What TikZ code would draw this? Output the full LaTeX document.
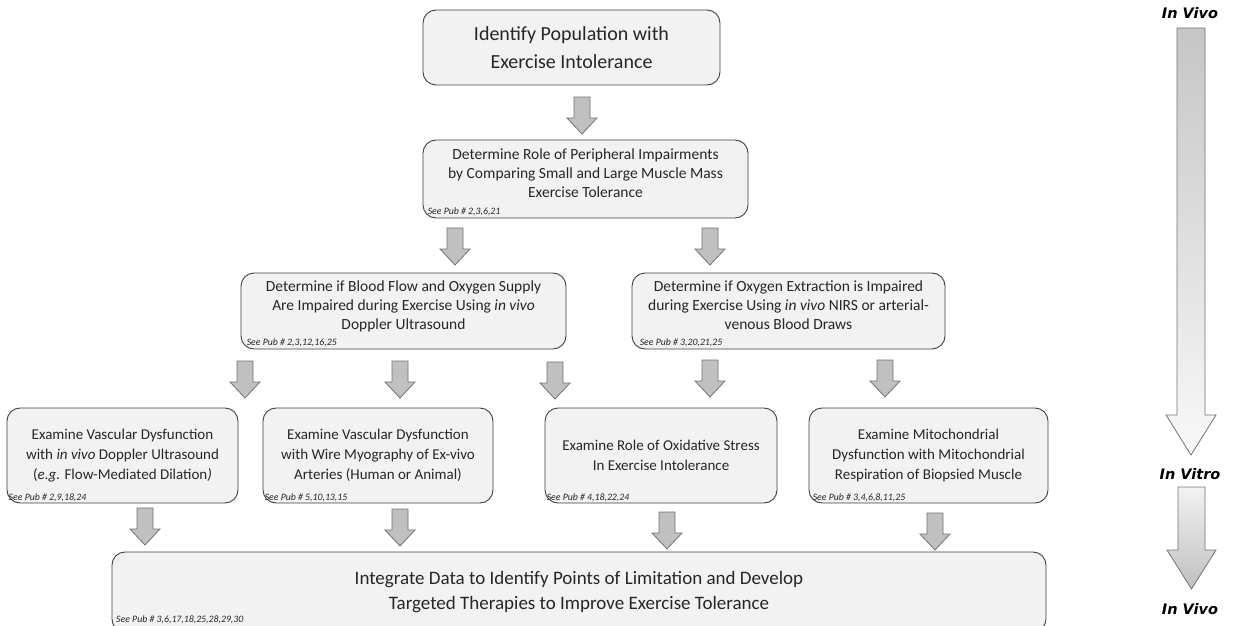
\documentclass[tikz,border=0pt]{standalone}
\usepackage{fontspec}
\setmainfont{Carlito}
\newfontfamily\labfont{DejaVu Sans}
\definecolor{boxfill}{HTML}{F2F2F2}
\definecolor{boxline}{HTML}{404040}
\definecolor{arrfill}{HTML}{C0C0C0}
\definecolor{arrline}{HTML}{737373}
\definecolor{txt}{HTML}{262626}
\newcommand{\lowstrut}{\rule[-11pt]{0pt}{1pt}}
\tikzset{
  box/.style={draw=boxline, fill=boxfill, text=txt, line width=0.9pt, rounded corners=13pt, align=center, inner sep=2pt},
  pubref/.style={anchor=south west, inner sep=0pt, text=txt, font=\fontsize{9.8}{10}\selectfont\itshape},
  sidelab/.style={font=\labfont\fontsize{14.5}{16}\selectfont\bfseries\itshape, inner sep=0pt},
  blockarr/.style={draw=arrline, fill=arrfill, line width=0.8pt, line join=miter},
  pics/darrow/.style={code={
    \draw[blockarr] (-8,0) -- (8,0) -- (8,21) -- (15,21) -- (0,37) -- (-15,21) -- (-8,21) -- cycle;
  }}
}
\begin{document}
\begin{tikzpicture}[x=1pt,y=-1pt]
\useasboundingbox (0,0) rectangle (1237,626);

% boxes
\node[box, minimum width=297pt, minimum height=75pt, font=\fontsize{20}{27.5}\selectfont] (b1) at (571.5,47.5)
  {Identify Population with\\Exercise Intolerance};

\node[box, minimum width=325pt, minimum height=78pt, font=\fontsize{15.5}{19}\selectfont] (b2) at (585.5,179)
  {Determine Role of Peripheral Impairments\\by Comparing Small and Large Muscle Mass\\Exercise Tolerance\lowstrut};
\node[pubref] (p2) at ([xshift=5pt,yshift=2pt]b2.south west) {See Pub \# 2,3,6,21};

\node[box, minimum width=325pt, minimum height=76pt, font=\fontsize{15.5}{19}\selectfont] (b3) at (403.5,311)
  {Determine if Blood Flow and Oxygen Supply\\Are Impaired during Exercise Using \textit{in vivo}\\Doppler Ultrasound\lowstrut};
\node[pubref] (p3) at ([xshift=6pt,yshift=2pt]b3.south west) {See Pub \# 2,3,12,16,25};

\node[box, minimum width=313pt, minimum height=76pt, font=\fontsize{15.5}{19}\selectfont] (b4) at (788.5,311)
  {Determine if Oxygen Extraction is Impaired\\during Exercise Using \textit{in vivo} NIRS or arterial-\\venous Blood Draws\lowstrut};
\node[pubref] (p4) at ([xshift=8pt,yshift=2pt]b4.south west) {See Pub \# 3,20,21,25};

\node[box, minimum width=231pt, minimum height=95pt, font=\fontsize{15}{20}\selectfont] (c1) at (122.5,455.5)
  {Examine Vascular Dysfunction\\with \textit{in vivo} Doppler Ultrasound\\(\textit{e.g.} Flow-Mediated Dilation\textit{)}};
\node[pubref] (q1) at ([xshift=2pt,yshift=2pt]c1.south west) {See Pub \# 2,9,18,24};

\node[box, minimum width=230pt, minimum height=95pt, font=\fontsize{15}{20}\selectfont] (c2) at (378,455.5)
  {Examine Vascular Dysfunction\\with Wire Myography of Ex-vivo\\Arteries (Human or Animal)};
\node[pubref] (q2) at ([xshift=2pt,yshift=2pt]c2.south west) {See Pub \# 5,10,13,15};

\node[box, minimum width=232pt, minimum height=95pt, font=\fontsize{15}{20}\selectfont] (c3) at (661,455.5)
  {Examine Role of Oxidative Stress\\In Exercise Intolerance};
\node[pubref] (q3) at ([xshift=2pt,yshift=2pt]c3.south west) {See Pub \# 4,18,22,24};

\node[box, minimum width=239pt, minimum height=95pt, font=\fontsize{15}{20}\selectfont] (c4) at (928.5,455.5)
  {Examine Mitochondrial\\Dysfunction with Mitochondrial\\Respiration of Biopsied Muscle};
\node[pubref] (q4) at ([xshift=4pt,yshift=2pt]c4.south west) {See Pub \# 3,4,6,8,11,25};

\node[box, minimum width=934pt, minimum height=80pt, font=\fontsize{19}{25}\selectfont] (d1) at (579,592)
  {Integrate Data to Identify Points of Limitation and Develop\\Targeted Therapies to Improve Exercise Tolerance};
\node[pubref] (r1) at (116,624) {See Pub \# 3,6,17,18,25,28,29,30};

% block arrows
\pic at (582,97) {darrow};
\pic at (455,228) {darrow};
\pic at (710,228) {darrow};
\pic at (245,361) {darrow};
\pic at (400,361) {darrow};
\pic at (555,362) {darrow};
\pic at (710,360) {darrow};
\pic at (885,360) {darrow};
\pic at (145,508) {darrow};
\pic at (400,509) {darrow};
\pic at (667,512) {darrow};
\pic at (935,513) {darrow};

% right side
\node[sidelab] (v1) at (1190,13) {In Vivo};
\node[sidelab] (v2) at (1190,474) {In Vitro};
\node[sidelab] (v3) at (1190,609) {In Vivo};
\draw[draw=arrline, line width=0.8pt, top color=gray!45, bottom color=gray!5, line join=miter]
  (1177,28) -- (1205,28) -- (1205,415) -- (1216,415) -- (1191,455) -- (1166,415) -- (1177,415) -- cycle;
\draw[draw=arrline, line width=0.8pt, top color=gray!10, bottom color=gray!50, line join=miter]
  (1178,487) -- (1205,487) -- (1205,550) -- (1216,550) -- (1191.5,589) -- (1167,550) -- (1178,550) -- cycle;
\end{tikzpicture}
\end{document}
